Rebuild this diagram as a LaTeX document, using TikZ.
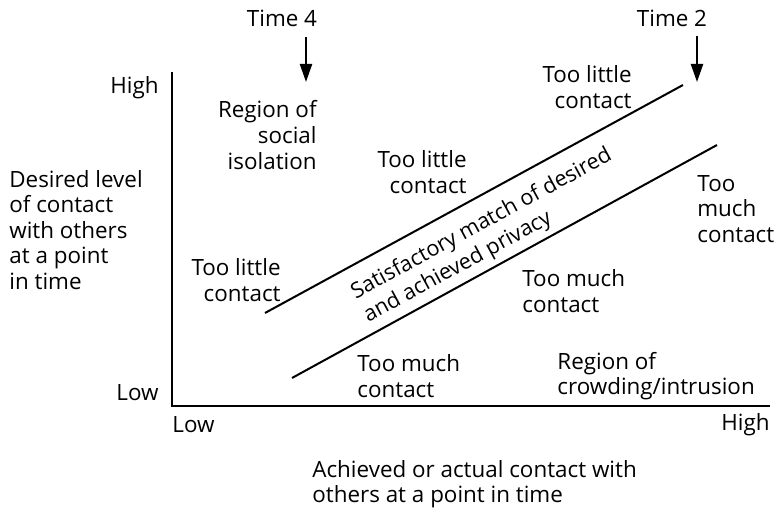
\documentclass[tikz,border=0pt]{standalone}
\usepackage{fontspec}
\setmainfont{Open Sans}
\usetikzlibrary{arrows.meta}

\tikzset{
    lbl/.style={inner sep=0pt, font=\fontsize{11.2}{12.8}\selectfont},
    axisline/.style={line width=1.4pt},
    bandline/.style={line width=1pt},
    timearrow/.style={line width=1.1pt, -{Triangle[length=9pt,width=6pt]}}
}

\begin{document}
\begin{tikzpicture}[x=0.5pt, y=-0.5pt]
        \useasboundingbox (0,0) rectangle (776,512);

        % axes
        \coordinate (ytop) at (172,72);
        \coordinate (orig) at (172,406);
        \coordinate (xend) at (770,406);
        \draw[axisline] (ytop) -- (orig) -- (xend);

        % axis ends
        \node[lbl, anchor=east] (yhigh) at (159,88) {High};
        \node[lbl, anchor=east] (ylow) at (159,393) {Low};
        \node[lbl, anchor=west] (xlow) at (172,425) {Low};
        \node[lbl, anchor=east] (xhigh) at (770,425) {High};

        % axis titles
        \node[lbl, anchor=west, align=left] (ytitle) at (9,230) {Desired level\\of contact\\with others\\at a point\\in time};
        \node[lbl, anchor=west, align=left] (xtitle) at (312,484) {Achieved or actual contact with\\others at a point in time};

        % band of satisfactory match
        \coordinate (ua) at (265,313);
        \coordinate (ub) at (683,85);
        \coordinate (la) at (292,378);
        \coordinate (lb) at (717,145);
        \draw[bandline] (ua) -- (ub);
        \draw[bandline] (la) -- (lb);
        \node[lbl, font=\fontsize{10.8}{13.2}\selectfont, anchor=west, align=left, rotate=28.5] (match) at (359,306) {Satisfactory match of desired\\and achieved privacy};

        % times
        \node[lbl] (time4) at (282,18) {Time 4};
        \node[lbl] (time2) at (672,18) {Time 2};
        \coordinate (t4) at (306,82);
        \coordinate (t2) at (697,82);
        \draw[timearrow] (306,37) -- (t4);
        \draw[timearrow] (697,36) -- (t2);

        % regions
        \node[lbl, anchor=east, align=right] (isolation) at (317,135) {Region of\\social\\isolation};
        \node[lbl, anchor=east, align=right] (little1) at (467,172) {Too little\\contact};
        \node[lbl, anchor=east, align=right] (little2) at (632,87) {Too little\\contact};
        \node[lbl, anchor=east, align=right] (little3) at (281,280) {Too little\\contact};
        \node[lbl, anchor=west, align=left] (much1) at (697,209) {Too\\much\\contact};
        \node[lbl, anchor=west, align=left] (much2) at (522,291) {Too much\\contact};
        \node[lbl, anchor=west, align=left] (much3) at (357,376) {Too much\\contact};
        \node[lbl, anchor=west, align=left] (crowding) at (557,376) {Region of\\crowding/intrusion};
    \end{tikzpicture}
\end{document}
